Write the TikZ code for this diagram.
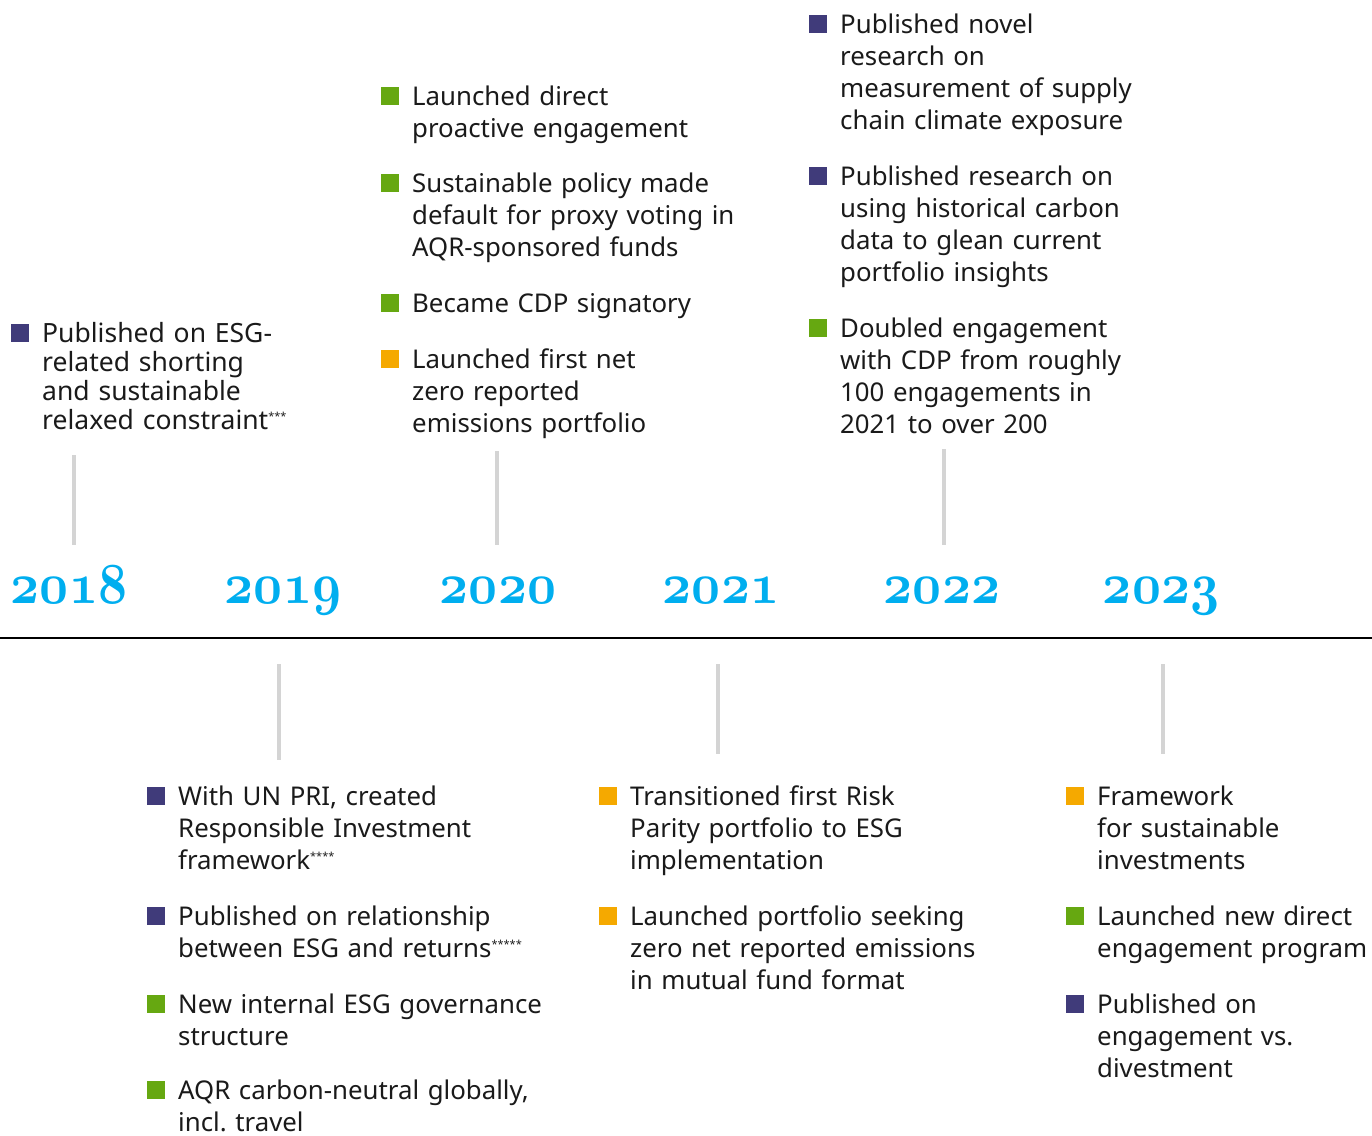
\documentclass[tikz,border=0pt]{standalone}
\usepackage{fontspec}
\setmainfont{Noto Sans}
\usetikzlibrary{calc}
\definecolor{cpurple}{HTML}{403B7A}
\definecolor{cgreen}{HTML}{66A811}
\definecolor{corange}{HTML}{F5A900}
\definecolor{ccyan}{HTML}{00AEEF}
\definecolor{cgray}{HTML}{D4D4D4}
\definecolor{cink}{HTML}{1A1A1A}
\font\yrfnt=cmmib10 at 58pt
\hyphenpenalty=10000
\newcommand\fnmark[1]{\raisebox{9pt}{\fontsize{11}{11}\selectfont #1}}
\newcommand\evt[5]{%
  \node[txt] (#1) at (#2,#3) {#5};
  \node[sq=#4] (#1s) at ($(#1.base west)+(-22.5,-9)$) {};}
\begin{document}
\begin{tikzpicture}[x=1pt,y=-1pt,
  txt/.style={anchor=base west, inner sep=0pt, text width=440pt, align=left,
    font=\fontsize{25.8}{32}\selectfont, text=cink},
  sq/.style={fill=#1, minimum size=18pt, inner sep=0pt, draw=none},
  vl/.style={draw=cgray, line width=3.5pt},
  yr/.style={anchor=base, inner sep=0pt, text=ccyan, font=\yrfnt}]
\useasboundingbox (0,0) rectangle (1372,1135);
\fill[white] (0,0) rectangle (1372,1135);

% axis
\coordinate (axL) at (0,638);
\coordinate (axR) at (1372,638);
\draw[line width=2.5pt, black] (axL) -- (axR);

% years
\node[yr] (y18) at (69,603) {\scalebox{0.87}[1]{2018}};
\node[yr] (y19) at (283,603) {\scalebox{0.87}[1]{2019}};
\node[yr] (y20) at (498,603) {\scalebox{0.87}[1]{2020}};
\node[yr] (y21) at (721,603) {\scalebox{0.87}[1]{2021}};
\node[yr] (y22) at (942,603) {\scalebox{0.87}[1]{2022}};
\node[yr] (y23) at (1161,603) {\scalebox{0.87}[1]{2023}};

% vertical grey ticks
\coordinate (a18) at (74,455); \coordinate (b18) at (74,545);
\coordinate (a20) at (497,451); \coordinate (b20) at (497,545);
\coordinate (a22) at (944,449); \coordinate (b22) at (944,545);
\coordinate (a19) at (279,664); \coordinate (b19) at (279,760);
\coordinate (a21) at (718,664); \coordinate (b21) at (718,754);
\coordinate (a23) at (1163,664); \coordinate (b23) at (1163,754);
\draw[vl] (a18) -- (b18);
\draw[vl] (a20) -- (b20);
\draw[vl] (a22) -- (b22);
\draw[vl] (a19) -- (b19);
\draw[vl] (a21) -- (b21);
\draw[vl] (a23) -- (b23);

% 2018
\begin{scope}[txt/.append style={font=\fontsize{26.5}{29}\selectfont}]
\evt{e18a}{42}{342}{cpurple}{Published on ESG-\\related shorting\\and sustainable\\relaxed constraint\fnmark{***}}
\end{scope}

% 2020
\evt{e20a}{412}{105}{cgreen}{Launched direct\\proactive engagement}
\evt{e20b}{412}{192}{cgreen}{Sustainable policy made\\default for proxy voting in\\AQR-sponsored funds}
\evt{e20c}{412}{312}{cgreen}{Became CDP signatory}
\evt{e20d}{412}{368}{corange}{Launched first net\\zero reported\\emissions portfolio}

% 2022
\evt{e22a}{840}{33}{cpurple}{Published novel\\research on\\measurement of supply\\chain climate exposure}
\evt{e22b}{840}{185}{cpurple}{Published research on\\using historical carbon\\data to glean current\\portfolio insights}
\evt{e22c}{840}{337}{cgreen}{Doubled engagement\\with CDP from roughly\\100 engagements in\\2021 to over 200}

% 2019
\evt{e19a}{178}{805}{cpurple}{With UN PRI, created\\Responsible Investment\\framework\fnmark{****}}
\evt{e19b}{178}{925}{cpurple}{Published on relationship\\between ESG and returns\fnmark{*****}}
\evt{e19c}{178}{1013}{cgreen}{New internal ESG governance\\structure}
\evt{e19d}{178}{1099}{cgreen}{AQR carbon-neutral globally,\\incl.\ travel}

% 2021
\evt{e21a}{630}{805}{corange}{Transitioned first Risk\\Parity portfolio to ESG\\implementation}
\evt{e21b}{630}{925}{corange}{Launched portfolio seeking\\zero net reported emissions\\in mutual fund format}

% 2023
\evt{e23a}{1097}{805}{corange}{Framework\\for sustainable\\investments}
\evt{e23b}{1097}{925}{cgreen}{Launched new direct\\engagement program}
\evt{e23c}{1097}{1013}{cpurple}{Published on\\engagement vs.\\divestment}
\end{tikzpicture}
\end{document}
